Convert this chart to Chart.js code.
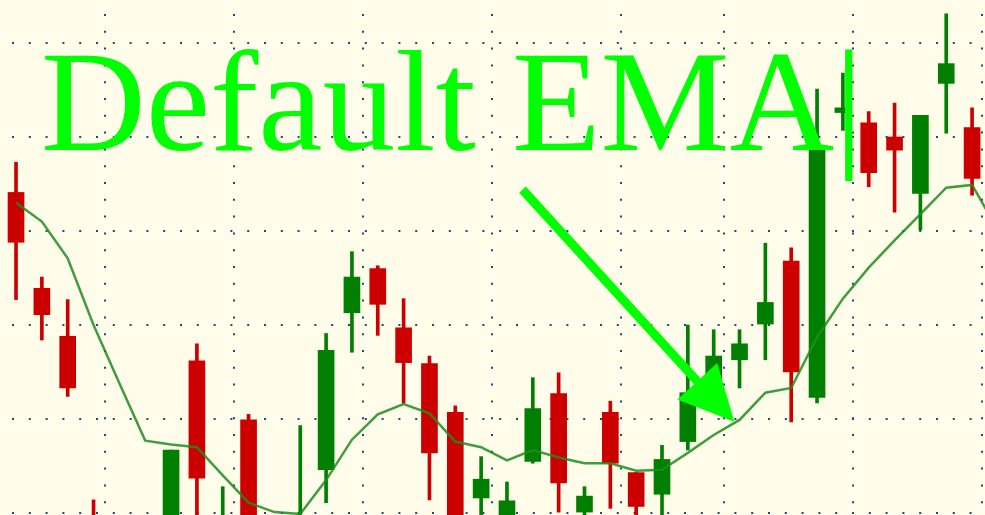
<!DOCTYPE html>
<html lang="en">
<head>
<meta charset="UTF-8">
<title>Default EMA</title>
<script src="https://cdn.jsdelivr.net/npm/chart.js"></script>
<style>
  body { margin: 0; background: #fffdea; }
  #chart { display: block; }
</style>
</head>
<body>
<canvas id="chart" width="985" height="515"></canvas>
<script>
// candles, one per bar (price in chart units, grid line every 10)
const opens  = [34.1, 23.9, 18.8, -2.3, -3.4, -10.3, -2.9, 16.2, -5.0, 9.9, -7.1, -6.1, 4.6, 21.3, 26.0, 19.7, 15.9, 10.7, 1.6, -1.8,
                5.5, 12.7, 0.1, 10.7, 4.3, 2.0, 7.6, 13.6, 16.3, 20.1, 26.8, 12.3, 42.6, 41.5, 40.0, 34.0, 45.7, 41.0];
const highs  = [37.3, 25.1, 22.7, 1.4, -1.8, -2.9, 6.7, 18.0, 2.8, 10.5, -1.8, 9.3, 19.1, 27.8, 26.3, 22.8, 16.7, 11.4, 6.0, 3.3,
                14.4, 14.9, 2.8, 11.9, 4.3, 7.2, 20.0, 19.5, 19.5, 28.7, 28.2, 45.1, 46.8, 42.7, 43.6, 42.3, 53.1, 43.1];
const lows   = [22.7, 18.4, 12.4, -8.2, -11.4, -11.4, -5.0, -2.9, -7.1, -7.1, -9.3, -8.2, 1.1, 17.1, 18.9, 11.7, 1.4, -5.0, -1.8, -3.4,
                5.3, 0.1, -1.8, 0.5, -1.8, -1.8, 6.7, 12.6, 13.3, 16.3, 9.7, 11.7, 40.7, 34.7, 32.0, 30.1, 40.4, 33.8];
const closes = [28.8, 21.1, 13.3, -6.1, -9.3, -5.0, 6.7, 3.7, -1.3, -5.0, -3.4, -1.8, 17.3, 25.1, 22.2, 16.0, 6.4, -2.9, 3.6, 1.3,
                11.1, 3.2, 1.8, 5.3, 0.7, 5.7, 12.8, 16.7, 18.0, 22.4, 15.0, 38.6, 43.1, 36.2, 38.6, 42.3, 47.8, 35.6];
const ema    = [33.0, 31.0, 27.1, 20.0, 13.8, 7.7, 7.3, 7.0, 4.0, 1.1, 0.1, -0.1, 3.5, 7.8, 10.5, 11.6, 10.6, 7.6, 7.0, 5.6,
                6.7, 5.9, 5.3, 5.3, 4.5, 4.6, 6.4, 8.3, 9.9, 12.8, 13.3, 18.7, 22.8, 26.1, 29.0, 31.8, 34.6, 34.9, 30.1];

const priceGrid = [0, 10, 20, 30, 40, 50];
const timeGrid  = [3.44, 8.44, 13.43, 18.42, 23.41, 27.40, 32.39, 37.38];
const label = 'Default EMA|';
const arrowFrom = { x: 19.6, y: 34.4 };
const arrowTo   = { x: 27.8, y: 9.7 };

const up = '#007f00';
const down = '#cc0000';
const candleColors = opens.map((o, i) => closes[i] >= o ? up : down);

const annotate = {
  id: 'annotate',
  beforeDraw(chart) {
    const ctx = chart.ctx;
    ctx.save();
    ctx.fillStyle = '#fffdea';
    ctx.fillRect(0, 0, chart.width, chart.height);
    ctx.restore();
  },
  afterDatasetsDraw(chart) {
    const ctx = chart.ctx;
    const sx = chart.scales.x, sy = chart.scales.y;
    ctx.save();
    ctx.fillStyle = '#00ff00';
    ctx.strokeStyle = '#00ff00';
    ctx.font = '145px "Liberation Serif", "Times New Roman", serif';
    ctx.textBaseline = 'alphabetic';
    ctx.fillText(label, 41, 150);

    // arrow
    const x1 = sx.getPixelForValue(arrowFrom.x), y1 = sy.getPixelForValue(arrowFrom.y);
    const x2 = sx.getPixelForValue(arrowTo.x), y2 = sy.getPixelForValue(arrowTo.y);
    const a = Math.atan2(y2 - y1, x2 - x1);
    const headLen = 55, half = 27;
    const bx = x2 - headLen * Math.cos(a), by = y2 - headLen * Math.sin(a);
    ctx.lineWidth = 9;
    ctx.lineCap = 'butt';
    ctx.beginPath();
    ctx.moveTo(x1, y1);
    ctx.lineTo(bx + 4 * Math.cos(a), by + 4 * Math.sin(a));
    ctx.stroke();
    ctx.beginPath();
    ctx.moveTo(x2, y2);
    ctx.lineTo(bx - half * Math.sin(a), by + half * Math.cos(a));
    ctx.lineTo(bx + half * Math.sin(a), by - half * Math.cos(a));
    ctx.closePath();
    ctx.fill();
    ctx.restore();
  }
};

const ctx = document.getElementById('chart').getContext('2d');

new Chart(ctx, {
  type: 'bar',
  data: {
    datasets: [
      {
        type: 'line',
        label: 'EMA',
        data: ema.map((v, i) => ({ x: i, y: v })),
        borderColor: 'rgba(30,140,30,0.85)',
        borderWidth: 2.5,
        pointRadius: 0,
        tension: 0,
        order: 0
      },
      {
        label: 'Body',
        data: opens.map((o, i) => ({ x: i, y: [o, closes[i]] })),
        backgroundColor: candleColors,
        borderWidth: 0,
        barThickness: 16,
        grouped: false,
        order: 1
      },
      {
        label: 'Wick',
        data: opens.map((o, i) => ({ x: i, y: [lows[i], highs[i]] })),
        backgroundColor: candleColors,
        borderWidth: 0,
        barThickness: 3,
        grouped: false,
        order: 2
      }
    ]
  },
  options: {
    responsive: false,
    devicePixelRatio: 1,
    animation: false,
    layout: { padding: 0 },
    plugins: {
      legend: { display: false },
      tooltip: { enabled: false }
    },
    scales: {
      x: {
        type: 'linear',
        bounds: 'data',
        offset: false,
        min: -0.62,
        max: 37.5,
        afterBuildTicks: s => { s.ticks = timeGrid.map(v => ({ value: v })); },
        ticks: { display: false },
        grid: { color: '#174b80', lineWidth: 2, drawTicks: false, offset: false },
        border: { display: false, dash: [2, 14.8], dashOffset: 2.8 }
      },
      y: {
        type: 'linear',
        bounds: 'data',
        min: -0.21,
        max: 54.57,
        afterBuildTicks: s => { s.ticks = priceGrid.map(v => ({ value: v })); },
        ticks: { display: false },
        grid: { color: '#174b80', lineWidth: 2, drawTicks: false },
        border: { display: false, dash: [2, 14.8], dashOffset: 4.8 }
      }
    }
  },
  plugins: [annotate]
});
</script>
</body>
</html>
